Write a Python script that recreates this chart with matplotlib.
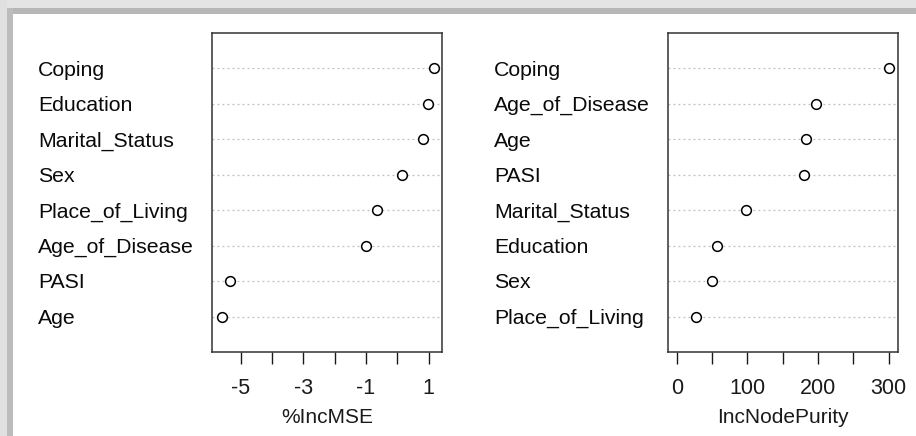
import matplotlib.pyplot as plt
import matplotlib.transforms as mtransforms
from matplotlib.patches import Rectangle

plt.rcParams['font.family'] = ['Liberation Sans', 'DejaVu Sans']

# variable importance (random forest), listed bottom to top
mse_vars = ['Age', 'PASI', 'Age_of_Disease', 'Place_of_Living', 'Sex',
            'Marital_Status', 'Education', 'Coping']
mse_vals = [-5.61, -5.34, -1.01, -0.66, 0.16, 0.82, 0.99, 1.18]

purity_vars = ['Place_of_Living', 'Sex', 'Education', 'Marital_Status', 'PASI',
               'Age', 'Age_of_Disease', 'Coping']
purity_vals = [27.6, 50.4, 57.0, 98.0, 179.7, 183.4, 196.4, 300.2]

fig = plt.figure(figsize=(9.16, 4.36), dpi=100)
fig.patch.set_facecolor('white')

# grey frame (top and left edges of the screenshot)
fig.patches.append(Rectangle((0, 1 - 8/436), 1, 8/436, transform=fig.transFigure,
                             facecolor='#e4e4e4', edgecolor='none', zorder=0))
fig.patches.append(Rectangle((0, 0), 7/916, 1, transform=fig.transFigure,
                             facecolor='#e0e0e0', edgecolor='none', zorder=0))
fig.patches.append(Rectangle((7/916, 1 - 14/436), 1, 6/436, transform=fig.transFigure,
                             facecolor='#b6b6b6', edgecolor='none', zorder=1))
fig.patches.append(Rectangle((7/916, 0), 6/916, 1 - 8/436, transform=fig.transFigure,
                             facecolor='#bcbcbc', edgecolor='none', zorder=1))


def dotchart(ax, names, vals, label_x, xlim, ticks, ticklabels, xlabel):
    y = list(range(1, len(vals) + 1))
    for yy in y:
        ax.axhline(yy, color='#bebebe', linestyle=(0, (1.5, 2.5)), linewidth=0.9, zorder=1)
    ax.plot(vals, y, linestyle='none', marker='o', markersize=7,
            markerfacecolor='white', markeredgecolor='black', markeredgewidth=1.1, zorder=3)
    ax.set_ylim(0, len(vals) + 1)
    ax.set_xlim(*xlim)
    ax.set_yticks([])
    ax.set_xticks(ticks)
    ax.set_xticklabels(ticklabels, fontsize=15.5)
    ax.tick_params(axis='x', direction='out', length=8.5, width=1, pad=10, colors='#1a1a1a')
    ax.set_xlabel(xlabel, fontsize=15, labelpad=7, color='#1a1a1a')
    for s in ax.spines.values():
        s.set_linewidth(1.1)
        s.set_color('#333333')
    trans = mtransforms.blended_transform_factory(fig.transFigure, ax.transData)
    for name, yy in zip(names, y):
        ax.text(label_x / 916, yy - 0.05, name, transform=trans, ha='left', va='center',
                fontsize=15.3, color='#0a0a0a')


ax1 = fig.add_axes([212/916, 1 - 352/436, 230/916, 319/436])
dotchart(ax1, mse_vars, mse_vals, 38, (-5.92, 1.43),
         [-5, -4, -3, -2, -1, 0, 1], ['-5', '', '-3', '', '-1', '', '1'], '%IncMSE')

ax2 = fig.add_axes([668/916, 1 - 352/436, 229.5/916, 319/436])
dotchart(ax2, purity_vars, purity_vals, 494, (-12.5, 312.5),
         [0, 50, 100, 150, 200, 250, 300], ['0', '', '100', '', '200', '', '300'], 'IncNodePurity')

fig.savefig('out.png', dpi=100)
